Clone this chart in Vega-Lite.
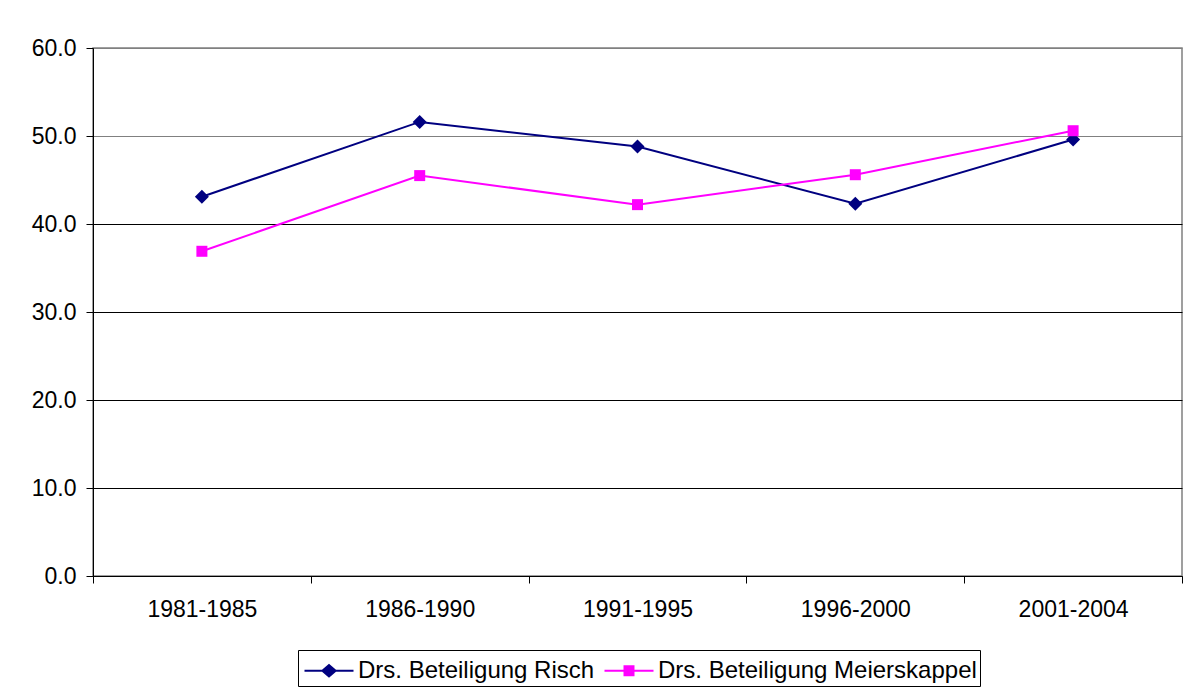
{
  "$schema": "https://vega.github.io/schema/vega-lite/v6.json",
  "width": 1089,
  "height": 528,
  "autosize": {"type": "none"},
  "padding": {"left": 93, "top": 48, "right": 10, "bottom": 117},
  "background": "white",
  "data": {
    "values": [
      {"period": "1981-1985", "series": "Drs. Beteiligung Risch", "value": 43.1},
      {"period": "1986-1990", "series": "Drs. Beteiligung Risch", "value": 51.6},
      {"period": "1991-1995", "series": "Drs. Beteiligung Risch", "value": 48.8},
      {"period": "1996-2000", "series": "Drs. Beteiligung Risch", "value": 42.3},
      {"period": "2001-2004", "series": "Drs. Beteiligung Risch", "value": 49.6},
      {"period": "1981-1985", "series": "Drs. Beteiligung Meierskappel", "value": 36.9},
      {"period": "1986-1990", "series": "Drs. Beteiligung Meierskappel", "value": 45.5},
      {"period": "1991-1995", "series": "Drs. Beteiligung Meierskappel", "value": 42.2},
      {"period": "1996-2000", "series": "Drs. Beteiligung Meierskappel", "value": 45.6},
      {"period": "2001-2004", "series": "Drs. Beteiligung Meierskappel", "value": 50.6}
    ]
  },
  "encoding": {
    "x": {
      "field": "period",
      "type": "ordinal",
      "scale": {"type": "band", "paddingInner": 0, "paddingOuter": 0},
      "axis": {
        "title": null,
        "tickBand": "extent",
        "tickSize": 7,
        "labelAngle": 0,
        "labelPadding": 15,
        "grid": false
      }
    },
    "y": {
      "field": "value",
      "type": "quantitative",
      "scale": {"domain": [0, 60], "nice": false},
      "axis": {
        "title": null,
        "values": [0, 10, 20, 30, 40, 50, 60],
        "format": ".1f",
        "tickSize": 7,
        "labelPadding": 10,
        "grid": true,
        "gridColor": {"condition": {"test": "datum.value >= 50", "value": "#808080"}, "value": "#000000"}
      }
    },
    "color": {
      "field": "series",
      "type": "nominal",
      "scale": {"domain": ["Drs. Beteiligung Risch", "Drs. Beteiligung Meierskappel"], "range": ["#000080", "#FF00FF"]},
      "legend": {
        "title": null,
        "orient": "none",
        "legendX": 205,
        "legendY": 602,
        "direction": "horizontal",
        "symbolSize": 1225,
        "labelOffset": 22,
        "columnPadding": 6,
        "encode": {
          "symbols": {
            "update": {
              "shape": {"signal": "datum.value === 'Drs. Beteiligung Risch' ? 'M-0.8,-0.06H0.2L0.6,-0.4L1,-0.06H2V0.06H1L0.6,0.4L0.2,0.06H-0.8Z' : 'M-0.8,-0.06H0.286V-0.314H0.914V-0.06H2V0.06H0.914V0.314H0.286V0.06H-0.8Z'"},
              "fill": {"scale": "color", "field": "value"},
              "stroke": {"value": "transparent"},
              "strokeWidth": {"value": 0},
              "opacity": {"value": 1},
              "size": {"value": 1225}
            }
          }
        }
      }
    }
  },
  "layer": [
    {"mark": {"type": "line", "strokeWidth": 2}},
    {
      "transform": [{"filter": "datum.series === 'Drs. Beteiligung Risch'"}],
      "mark": {"type": "point", "filled": true, "opacity": 1, "shape": "diamond", "size": 196}
    },
    {
      "transform": [{"filter": "datum.series === 'Drs. Beteiligung Meierskappel'"}],
      "mark": {"type": "point", "filled": true, "opacity": 1, "shape": "square", "size": 121}
    }
  ],
  "config": {
    "font": "Liberation Sans",
    "view": {"stroke": "#808080", "strokeWidth": 1.5},
    "axis": {
      "labelFont": "Liberation Sans",
      "labelFontSize": 23,
      "labelColor": "#000000",
      "domainColor": "#000000",
      "domainWidth": 1,
      "tickColor": "#000000",
      "tickWidth": 1,
      "gridWidth": 1
    },
    "legend": {
      "labelFont": "Liberation Sans",
      "labelFontSize": 24,
      "labelColor": "#000000",
      "strokeColor": "#000000",
      "padding": 3,
      "labelLimit": 500
    }
  }
}
